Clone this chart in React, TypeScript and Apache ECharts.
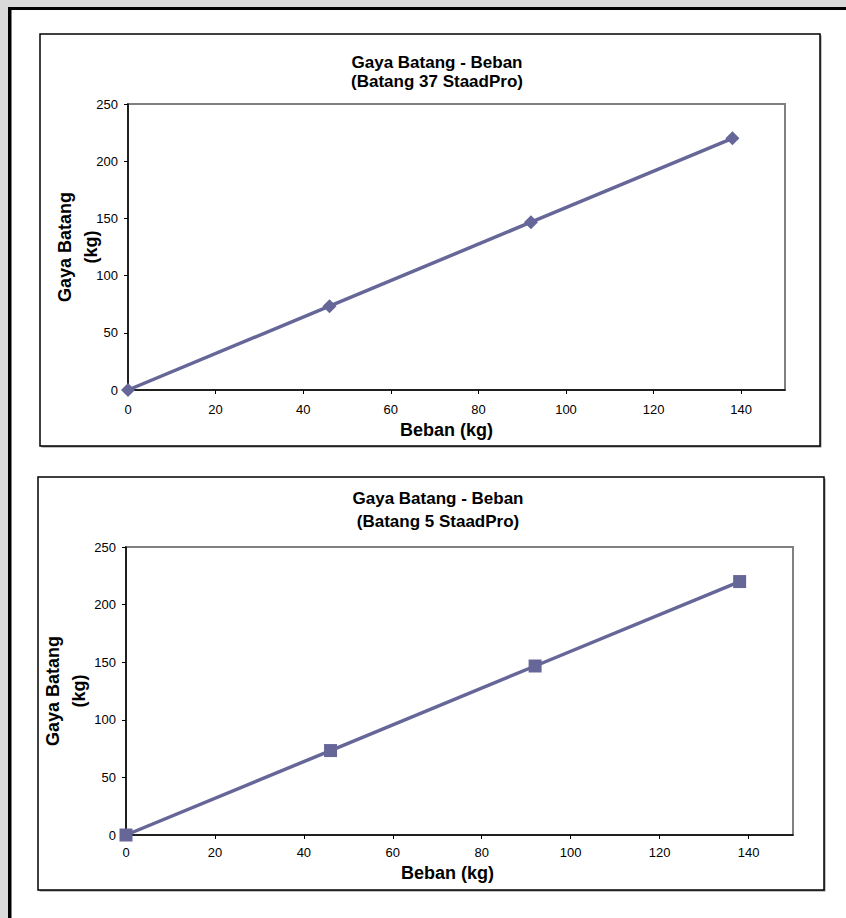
import React, { useEffect, useRef } from 'react';
import * as echarts from 'echarts';

const beban = [0, 46, 92, 138];
const gayaBatang37 = [0, 73.3, 146.7, 220];
const gayaBatang5 = [0, 73.3, 146.7, 220];
const xTickValues = [0, 20, 40, 60, 80, 100, 120, 140];
const yTickValues = [0, 50, 100, 150, 200, 250];
const chartTitles = ['Gaya Batang - Beban\n(Batang 37 StaadPro)', 'Gaya Batang - Beban\n(Batang 5 StaadPro)'];
const xAxisName = 'Beban (kg)';
const yAxisName = 'Gaya Batang\n(kg)';

const FONT = '"Liberation Sans", Arial, Helvetica, sans-serif';
const LINE_COLOR = '#666699';

export default function App() {
  const ref = useRef<HTMLDivElement>(null);
  useEffect(() => {
    if (!ref.current) return;
    const chart = echarts.init(ref.current, undefined, { renderer: 'svg' });

    const grids = [
      { left: 128, top: 104, width: 657, height: 286 },
      { left: 126, top: 547, width: 667, height: 288 },
    ];
    const boxes = [
      { x: 40, y: 34, w: 780, h: 412 },
      { x: 38, y: 477, w: 786, h: 413 },
    ];

    const makeX = (i: number, padRight: number, nameGap: number, margin: number) => ({
      type: 'value',
      gridIndex: i,
      min: 0,
      max: 150,
      interval: 20,
      name: xAxisName,
      nameLocation: 'middle',
      nameGap,
      nameMoveOverlap: false,
      nameTextStyle: { fontFamily: FONT, fontSize: 18, fontWeight: 'bold', color: '#000', padding: [0, padRight, 0, 0] },
      axisLine: { show: true, onZero: false, lineStyle: { color: '#000', width: 1.5 } },
      axisTick: { show: true, inside: false, length: 4, customValues: xTickValues, lineStyle: { color: '#000', width: 1 } },
      axisLabel: { show: true, customValues: xTickValues, margin, fontFamily: FONT, fontSize: 13, color: '#000' },
      splitLine: { show: false },
      z: 5,
    });
    const makeY = (i: number, nameGap: number) => ({
      type: 'value',
      gridIndex: i,
      min: 0,
      max: 250,
      interval: 50,
      name: yAxisName,
      nameLocation: 'middle',
      nameRotate: 90,
      nameGap,
      nameMoveOverlap: false,
      nameTextStyle: { fontFamily: FONT, fontSize: 18, fontWeight: 'bold', color: '#000', lineHeight: 26 },
      axisLine: { show: true, onZero: false, lineStyle: { color: '#000', width: 1.5 } },
      axisTick: { show: true, inside: false, length: 4, customValues: yTickValues, lineStyle: { color: '#000', width: 1 } },
      axisLabel: { show: true, customValues: yTickValues, margin: 10, fontFamily: FONT, fontSize: 13, color: '#000' },
      splitLine: { show: false },
      z: 5,
    });

    const toPairs = (ys: number[]) => beban.map((x, k) => [x, ys[k]]);

    chart.setOption({
      animation: false,
      backgroundColor: '#ffffff',
      graphic: [
        { type: 'rect', z: -10, shape: { x: 0, y: 0, width: 846, height: 918 }, style: { fill: '#d9d9d9' }, silent: true },
        { type: 'rect', z: -9, shape: { x: 9, y: 8, width: 837, height: 910 }, style: { fill: '#ffffff' }, silent: true },
        { type: 'rect', z: -8, shape: { x: 8, y: 7, width: 838, height: 3 }, style: { fill: '#000000' }, silent: true },
        { type: 'rect', z: -8, shape: { x: 8, y: 7, width: 3.5, height: 911 }, style: { fill: '#000000' }, silent: true },
        ...boxes.flatMap((b) => [
          { type: 'rect', z: -7, shape: { x: b.x + 1.5, y: b.y + 1.5, width: b.w, height: b.h }, style: { fill: '#888888' }, silent: true },
          { type: 'rect', z: -6, shape: { x: b.x, y: b.y, width: b.w, height: b.h }, style: { fill: '#ffffff', stroke: '#000000', lineWidth: 1.5 }, silent: true },
        ]),
      ],
      title: [
        {
          text: chartTitles[0],
          left: 432,
          top: 48,
          textAlign: 'center',
          textStyle: { fontFamily: FONT, fontSize: 17, fontWeight: 'bold', color: '#000', lineHeight: 19 },
        },
        {
          text: chartTitles[1],
          left: 433,
          top: 482,
          textAlign: 'center',
          textStyle: { fontFamily: FONT, fontSize: 17, fontWeight: 'bold', color: '#000', lineHeight: 23 },
        },
      ],
      grid: grids.map((g) => ({
        ...g,
        show: true,
        backgroundColor: '#ffffff',
        borderColor: '#808080',
        borderWidth: 2,
        containLabel: false,
      })),
      xAxis: [makeX(0, 20, 31, 13), makeX(1, 24, 29, 11)],
      yAxis: [makeY(0, 24), makeY(1, 34)],
      series: [
        {
          type: 'line',
          xAxisIndex: 0,
          yAxisIndex: 0,
          data: toPairs(gayaBatang37),
          symbol: 'diamond',
          symbolSize: 14,
          lineStyle: { color: LINE_COLOR, width: 3.5 },
          itemStyle: { color: LINE_COLOR },
          z: 10,
        },
        {
          type: 'line',
          xAxisIndex: 1,
          yAxisIndex: 1,
          data: toPairs(gayaBatang5),
          symbol: 'rect',
          symbolSize: 13,
          lineStyle: { color: LINE_COLOR, width: 3.5 },
          itemStyle: { color: LINE_COLOR },
          z: 10,
        },
      ],
    });
    return () => chart.dispose();
  }, []);
  return <div ref={ref} style={{ position: 'fixed', left: 0, top: 0, width: 846, height: 918 }} />;
}
